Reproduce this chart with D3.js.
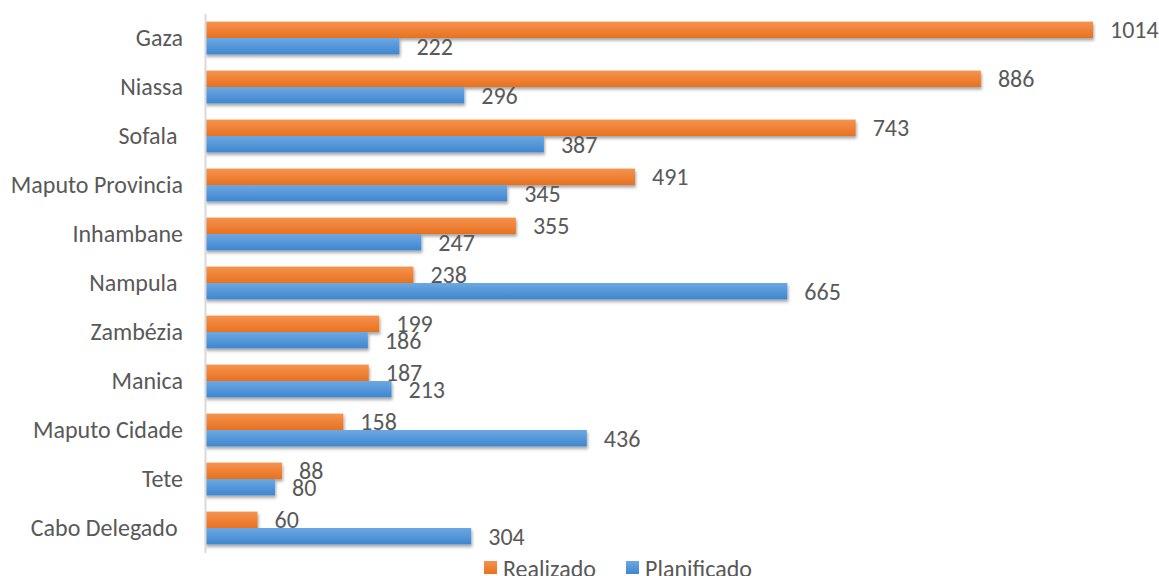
<!DOCTYPE html>
<html>
<head>
<meta charset="utf-8">
<script src="https://cdn.jsdelivr.net/npm/d3@7"></script>
<style>
  html, body { margin: 0; padding: 0; background: #ffffff; }
  svg { display: block; }
  text { font-family: Carlito, "Open Sans", "Liberation Sans", sans-serif; fill: #595959; white-space: pre; }
</style>
</head>
<body>
<svg id="chart" width="1159" height="576"></svg>
<script>
// Provinces, top to bottom
const categories = ["Gaza", "Niassa", "Sofala ", "Maputo Provincia", "Inhambane", "Nampula ",
  "Zambézia", "Manica", "Maputo Cidade", "Tete", "Cabo Delegado "];
const realizado   = [1014, 886, 743, 491, 355, 238, 199, 187, 158, 88, 60];
const planificado = [222, 296, 387, 345, 247, 665, 186, 213, 436, 80, 304];
const seriesNames = ["Realizado", "Planificado"];

const svg = d3.select("#chart");
const plotLeft = 205, plotTop = 13.5, plotBottom = 552.5;
const fontSize = 24;

const x = d3.scaleLinear().domain([0, 1014]).range([plotLeft, 1093]);
const y = d3.scaleBand().domain(categories).range([plotTop, plotBottom]).paddingInner(0.33).paddingOuter(0.165);
const ySub = d3.scaleBand().domain(seriesNames).range([0, y.bandwidth()]);

const defs = svg.append("defs");
function grad(id, c1, c2) {
  const g = defs.append("linearGradient").attr("id", id).attr("x1", 0).attr("y1", 0).attr("x2", 0).attr("y2", 1);
  g.append("stop").attr("offset", "0%").attr("stop-color", c1);
  g.append("stop").attr("offset", "100%").attr("stop-color", c2);
}
grad("gOrange", "#F5934E", "#E8711F");
grad("gBlue", "#6CA8E2", "#3F86CF");
const f = defs.append("filter").attr("id", "shadow").attr("x", "-5%").attr("y", "-30%").attr("width", "115%").attr("height", "180%");
f.append("feDropShadow").attr("dx", 1).attr("dy", 2.5).attr("stdDeviation", 1.6)
  .attr("flood-color", "#000").attr("flood-opacity", 0.35);

const fills = { "Realizado": "url(#gOrange)", "Planificado": "url(#gBlue)" };
const rows = categories.map((c, i) => ({ cat: c, Realizado: realizado[i], Planificado: planificado[i] }));

const groups = svg.append("g").selectAll("g").data(rows).join("g")
  .attr("transform", d => `translate(0,${y(d.cat)})`);

groups.selectAll("rect").data(d => seriesNames.map(s => ({ s, v: d[s] }))).join("rect")
  .attr("x", x(0))
  .attr("y", d => ySub(d.s))
  .attr("width", d => x(d.v) - x(0))
  .attr("height", ySub.bandwidth())
  .attr("fill", d => fills[d.s])
  .attr("filter", "url(#shadow)");

groups.selectAll("text.val").data(d => seriesNames.map(s => ({ s, v: d[s] }))).join("text")
  .attr("class", "val")
  .attr("x", d => x(d.v) + 17)
  .attr("y", d => ySub(d.s) + ySub.bandwidth() / 2)
  .attr("dy", "0.36em")
  .attr("font-size", fontSize)
  .text(d => d.v);

// Category axis
const axis = svg.append("g").attr("transform", `translate(${plotLeft},0)`)
  .call(d3.axisLeft(y).tickSize(0).tickPadding(22));
axis.select(".domain").attr("stroke", "#D9D9D9").attr("stroke-width", 2);
axis.selectAll("text").attr("font-size", fontSize).attr("fill", "#595959")
  .style("font-family", 'Carlito, "Open Sans", "Liberation Sans", sans-serif');

// Legend
const legend = svg.append("g").attr("transform", "translate(484,561)");
const items = [{ s: "Realizado", x: 0 }, { s: "Planificado", x: 142 }];
const li = legend.selectAll("g").data(items).join("g").attr("transform", d => `translate(${d.x},0)`);
li.append("rect").attr("width", 13).attr("height", 13).attr("fill", d => fills[d.s]);
li.append("text").attr("x", 19).attr("y", 7).attr("dy", "0.36em").attr("font-size", fontSize).text(d => d.s);
</script>
</body>
</html>
